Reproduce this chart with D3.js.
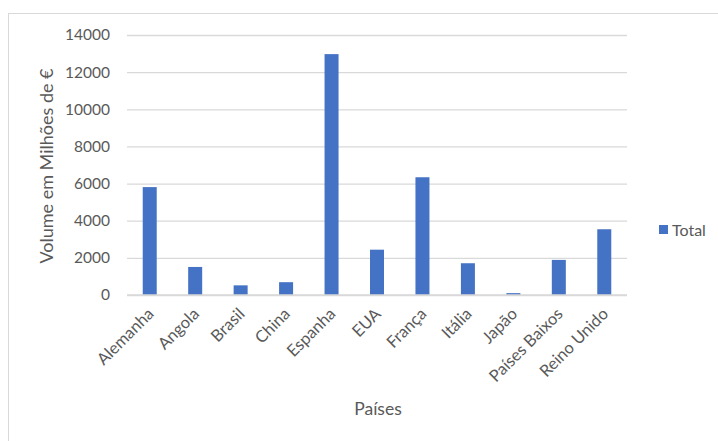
<!DOCTYPE html>
<html>
  <head>
    <meta charset="utf-8" />
    <title>Volume por País</title>
    <script src="https://d3js.org/d3.v7.min.js"></script>
    <style>
      body { margin: 0; background: #fff; }
      text { font-family: Lato, "Open Sans", sans-serif; fill: #595959; }
    </style>
  </head>
  <body>
    <svg id="chart" width="718" height="441"></svg>
    <script>
        var paises = ["Alemanha", "Angola", "Brasil", "China", "Espanha", "EUA",
                      "França", "Itália", "Japão", "Países Baixos", "Reino Unido"];
        var totais = [5810, 1510, 520, 690, 12970, 2440, 6340, 1710, 100, 1890, 3540];
        var yTicks = [0, 2000, 4000, 6000, 8000, 10000, 12000, 14000];

        var svg = d3.select("#chart");
        var margin = {left: 127, right: 91, top: 35, bottom: 146};
        var w = 718 - margin.left - margin.right;
        var h = 441 - margin.top - margin.bottom;

        // chart frame
        svg.append("rect")
          .attr("x", 8.5).attr("y", 13.5)
          .attr("width", 720).attr("height", 440)
          .attr("fill", "none").attr("stroke", "#d9d9d9");

        var g = svg.append("g")
          .attr("transform", "translate(" + margin.left + "," + margin.top + ")");

        var x = d3.scaleBand().domain(paises).range([0, w]);
        var y = d3.scaleLinear().domain([0, 14000]).range([h, 0]);

        // gridlines + y labels
        g.append("g")
          .call(d3.axisLeft(y).tickValues(yTicks).tickSize(-w).tickPadding(17).tickFormat(d3.format("d")))
          .call(function (a) {
            a.select(".domain").remove();
            a.selectAll("line").attr("stroke", "#d9d9d9").attr("stroke-width", 1.3);
            a.selectAll("text").attr("font-size", 15.5).style("fill", "#595959")
              .attr("font-family", "Lato, 'Open Sans', sans-serif");
          });

        g.selectAll(".bar")
          .data(totais)
          .enter().append("rect")
          .attr("class", "bar")
          .attr("x", function (d, i) { return x(paises[i]) + x.bandwidth() / 2 - 7; })
          .attr("width", 14)
          .attr("y", function (d) { return y(d); })
          .attr("height", function (d) { return h - y(d); })
          .attr("fill", "#4472c4");

        // x axis line + rotated labels
        g.append("line")
          .attr("x1", 0).attr("x2", w).attr("y1", h).attr("y2", h)
          .attr("stroke", "#d9d9d9").attr("stroke-width", 1.3);

        g.selectAll(".xlab")
          .data(paises)
          .enter().append("text")
          .attr("class", "xlab")
          .attr("font-size", 16.5)
          .attr("text-anchor", "end")
          .attr("transform", function (d) {
            return "translate(" + (x(d) + x.bandwidth() / 2 + 5) + "," + (h + 20) + ") rotate(-45)";
          })
          .text(function (d) { return d; });

        // axis titles
        svg.append("text")
          .attr("font-size", 18)
          .attr("text-anchor", "middle")
          .attr("transform", "translate(53,166) rotate(-90)")
          .text("Volume em Milhões de €");

        svg.append("text")
          .attr("font-size", 17.5)
          .attr("text-anchor", "middle")
          .attr("x", 378).attr("y", 415)
          .text("Países");

        // legend
        var leg = svg.append("g").attr("transform", "translate(659,225)");
        leg.append("rect").attr("width", 9).attr("height", 9).attr("fill", "#4472c4");
        leg.append("text").attr("x", 13).attr("y", 10.5).attr("font-size", 16).text("Total");
    </script>
  </body>
</html>
